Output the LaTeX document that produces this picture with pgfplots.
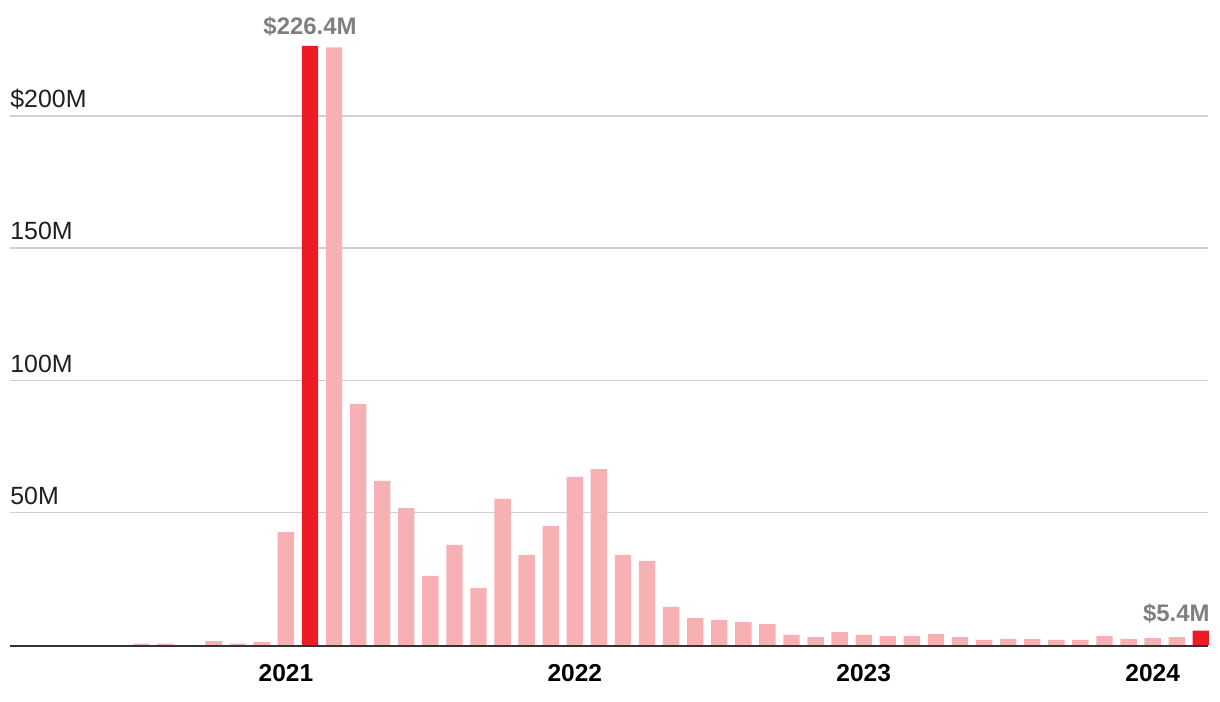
\documentclass[border=0pt]{standalone}
\usepackage{fontspec}
\setmainfont{Liberation Sans}
\usepackage{pgfplots}
\pgfplotsset{compat=1.18}
\definecolor{barred}{HTML}{ED1C24}
\definecolor{barpink}{HTML}{F7B1B4}
\definecolor{gridgray}{HTML}{D0D0D0}
\definecolor{annogray}{HTML}{7F7F7F}
\definecolor{axisdark}{HTML}{333333}
\begin{document}
\begin{tikzpicture}
\begin{axis}[
  at={(0,0)}, anchor=south west,
  scale only axis, width=599bp, height=317.5bp,
  xmin=-11.46, xmax=38.3, ymin=0, ymax=240,
  axis line style={draw=none},
  major tick length=0pt,
  ymajorgrids, grid style={draw=gridgray, line width=0.7bp},
  ytick={50,100,150,200},
  yticklabels={50M,100M,150M,\$200M},
  yticklabel style={anchor=base west, inner sep=0pt, yshift=4.2bp, text=black!88, font=\fontsize{12.5}{14}\selectfont},
  xtick={0,12,24,36},
  xticklabels={2021,2022,2023,2024},
  xticklabel style={anchor=north, inner sep=0pt, yshift=-9.5bp, font=\bfseries\fontsize{12.3}{14}\selectfont},
  clip=false,
  ybar, bar width=0.68, bar shift=0pt,
]
\addplot[fill=barpink, draw=none] coordinates {
(-6,0.5) (-5,0.5) (-3,1.5) (-2,0.5) (-1,1.2)
(0,42.7) (2,225.9) (3,91.1) (4,62.0) (5,51.8) (6,26.1) (7,37.8) (8,21.5)
(9,55.2) (10,34.0) (11,45.0) (12,63.5) (13,66.5) (14,34.0) (15,31.8) (16,14.4)
(17,10.2) (18,9.5) (19,8.7) (20,7.9) (21,3.8) (22,3.0) (23,4.9) (24,3.8)
(25,3.4) (26,3.4) (27,4.1) (28,3.0) (29,1.9) (30,2.3) (31,2.3) (32,1.9)
(33,1.9) (34,3.4) (35,2.3) (36,2.6) (37,3.0)
};
\addplot[fill=barred, draw=none] coordinates {(1,226.4) (38,5.4)};
\draw[axisdark, line width=0.9bp, yshift=-0.45bp] (axis cs:-11.46,0) -- (axis cs:38.3,0);
\node[anchor=base, inner sep=0pt, text=annogray, font=\bfseries\fontsize{12}{14}\selectfont, yshift=5.7bp] at (axis cs:1,226.4) {\$226.4M};
\node[anchor=base east, inner sep=0pt, text=annogray, font=\bfseries\fontsize{12}{14}\selectfont, yshift=4.5bp] at (axis cs:38.38,5.4) {\$5.4M};
\end{axis}
\pgfresetboundingbox
\path[use as bounding box] (-5bp,-28.5bp) rectangle (605bp,322.5bp);
\end{tikzpicture}
\end{document}
